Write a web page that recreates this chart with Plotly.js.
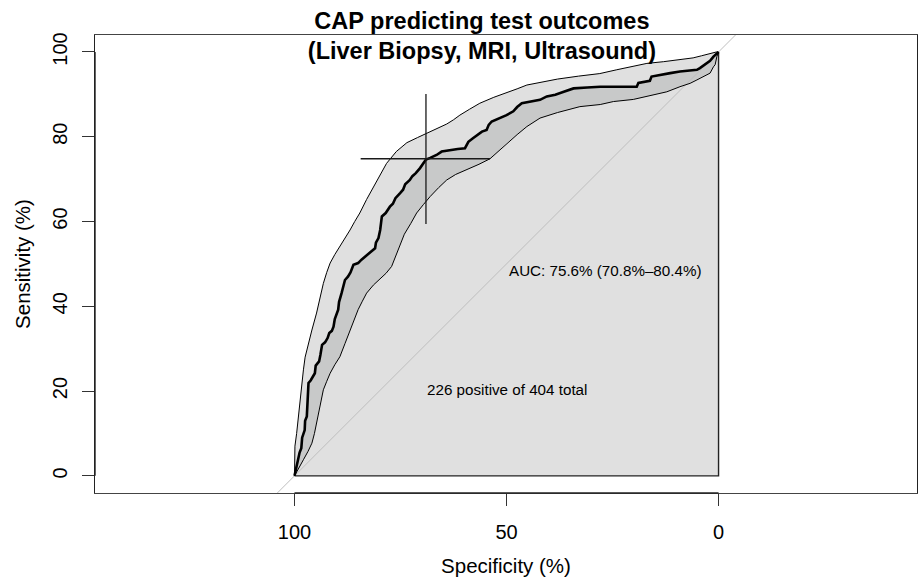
<!DOCTYPE html>
<html>
<head>
<meta charset="utf-8">
<script src="https://cdn.plot.ly/plotly-3.0.1.min.js"></script>
<style>html,body{margin:0;padding:0;background:#fff;}#chart{width:918px;height:577px;}</style>
</head>
<body>
<div id="chart"></div>
<script>
// ROC curve (specificity %, sensitivity %)
const rocSpec = [100,99.6,98.8,98.4,98.2,97.6,97.5,97.1,97.0,96.7,96.2,95.6,95.2,95.0,94.2,93.9,93.5,92.8,92.2,91.8,91.2,90.8,90.5,89.7,89.5,88.9,88.6,88.1,87.4,86.8,86.1,85.0,84.2,83.4,82.3,81.0,80.8,80.2,79.8,79.6,79.4,78.5,77.5,76.8,76.2,75.1,74.4,73.9,72.8,72.2,71.4,70.4,69.8,69.0,68.0,66.5,65.3,63.3,61.5,59.8,59.0,58.0,57.0,55.8,54.7,54.2,53.5,52.0,50.0,48.4,47.5,46.4,44.0,42.1,40.5,38.5,36.5,34.2,31.0,27.9,23.0,19.3,18.9,16.2,15.8,13.0,11.4,9.1,6.7,5.1,4.4,3.4,2.0,1.2,0.6,0];
const rocSens = [0,2,5.5,6.5,9,10.8,13,14,17,21.9,22.5,23.5,24.2,26,27,28.5,30.9,31.5,32.5,33.7,34.2,35.2,37,39.2,41,43.1,44.5,46.2,47,48,49.8,50.2,51,51.7,52.5,53.7,55,56.1,58,60,61.2,62,63.5,64.2,65.5,66.7,67.5,68.8,69.8,70.7,71.4,72.6,73.6,74.6,75.0,75.7,76.5,76.9,77.1,77.3,78.8,79.6,80.4,81.2,81.6,82.8,83.6,84.2,85.1,86.0,87.0,87.9,88.3,88.7,89.5,89.9,90.6,91.4,91.6,91.8,91.8,91.8,92.7,93.2,94.2,94.6,95.0,95.4,95.6,95.8,96.2,96.9,97.9,98.9,99.5,100];

// Upper confidence bound
const upperSpec = [100,100,99.9,99.5,99.1,98.7,98.3,97.9,97.5,96.7,95.9,94.8,94.0,93.2,92.4,91.6,90.5,89.3,88.0,86.9,85.8,84.6,83.0,81.4,79.8,78.3,76.0,73.5,71.0,68.8,66.5,64.1,62.5,61.0,58.7,56.3,53.0,50.0,47.5,45.2,42,38,33,28,24,20,16.9,13,9.9,6,4,2,0.5,0];
const upperSens = [0,3,7,10,14,18,22,25,28,31.5,34.4,38.4,42,45.4,48,50.2,52.2,54.1,56,58,60,62,65.2,68.2,71,73.7,76.5,78.6,79.8,80.8,81.8,83.0,84,85.1,86.5,87.9,89.3,90.3,91.3,92.2,92.9,93.6,94.3,94.9,95.8,96.6,97.3,97.7,98.1,98.6,99.1,99.7,100,100];

// Lower confidence bound
const lowerSpec = [100,98.8,97.9,96.8,95.9,95.3,94.8,94.4,94.0,93.2,92.4,91.6,90.5,89.3,88.1,86.9,86.0,85.0,84.0,83.0,81.4,80.4,79.8,78.4,77.1,76.5,75.9,75.0,74.1,72.6,71.2,69.6,68.0,66,64.1,62,59.4,56.5,53.9,52,50.0,47.5,45.2,42.1,38,32.7,27.9,24.8,20.1,16.9,12.2,9.1,6.7,5.1,2.8,2.0,1.2,0.8,0.4,0.2,0];
const lowerSens = [0,2,3.8,5.8,7.7,10,12.4,14.8,17.1,20.3,22.3,24.2,26.2,28.1,31.2,34.4,36.8,39.2,41.2,43.1,45,46,46.6,47.8,49.4,51,52.5,55,57,59.5,62,64,65.9,68,69.8,71.1,72.2,73.5,74.8,76.5,78.5,80.5,82.4,84.4,85.7,87.1,87.6,88.3,88.8,89.5,90.6,91.8,92.6,93.4,94.6,95.0,96.5,97,98.9,99.7,100];

// Best threshold with its confidence intervals
const bestSpec = 69.0, bestSens = 74.8;
const specCI = [84.4, 53.9];
const sensCI = [59.4, 90.1];

// Chance diagonal and AUC polygon corners
const diagSpec = [160, -60];
const diagSens = [-60, 160];
const cornerSpec = [0, 0, 100];
const cornerSens = [100, 0, 0];

const xTicks = [100, 50, 0];
const yTicks = [0, 20, 40, 60, 80, 100];

const aucText = 'AUC: 75.6% (70.8%–80.4%)';
const countText = '226 positive of 404 total';
const FONT = 'Liberation Sans, Arial, Helvetica, sans-serif';

const traces = [
  { // light grey area under the upper bound
    x: upperSpec.concat(cornerSpec.slice(1)),
    y: upperSens.concat(cornerSens.slice(1)),
    mode: 'lines', fill: 'toself', fillcolor: '#E0E0E0',
    line: {width: 0}, hoverinfo: 'skip', showlegend: false
  },
  { // darker band between ROC and lower bound
    x: rocSpec.concat(lowerSpec.slice().reverse()),
    y: rocSens.concat(lowerSens.slice().reverse()),
    mode: 'lines', fill: 'toself', fillcolor: '#C8C9C9',
    line: {width: 0}, hoverinfo: 'skip', showlegend: false
  },
  { // polygon border
    x: cornerSpec, y: cornerSens, mode: 'lines',
    line: {color: '#222', width: 1.4}, hoverinfo: 'skip', showlegend: false
  },
  { // chance line
    x: diagSpec, y: diagSens, mode: 'lines',
    line: {color: '#BEBEBE', width: 1}, hoverinfo: 'skip', showlegend: false
  },
  { x: upperSpec, y: upperSens, mode: 'lines', line: {color: '#000', width: 1}, showlegend: false },
  { x: lowerSpec, y: lowerSens, mode: 'lines', line: {color: '#000', width: 1}, showlegend: false },
  { x: rocSpec, y: rocSens, mode: 'lines', line: {color: '#000', width: 2.6}, showlegend: false },
  { x: specCI, y: [bestSens, bestSens], mode: 'lines', line: {color: '#1a1a1a', width: 1.3}, showlegend: false },
  { x: [bestSpec, bestSpec], y: sensCI, mode: 'lines', line: {color: '#1a1a1a', width: 1.3}, showlegend: false }
];

const layout = {
  width: 918, height: 577, autosize: false,
  paper_bgcolor: '#fff', plot_bgcolor: '#fff',
  margin: {l: 95, r: 1, t: 35, b: 84, pad: 0},
  font: {family: FONT, color: '#000', size: 20},
  title: {
    text: '<b>CAP predicting test outcomes<br>(Liver Biopsy, MRI, Ultrasound)</b>',
    font: {family: FONT, size: 23.5, color: '#000'},
    x: 0.525, xanchor: 'center', y: 0.950, yanchor: 'middle'
  },
  xaxis: {
    range: [147.05, -46.8], tickvals: xTicks, ticktext: xTicks.map(String),
    ticks: 'outside', ticklen: 12, tickwidth: 1, tickcolor: '#333', ticklabelstandoff: 9,
    showgrid: false, zeroline: false, showline: true, mirror: true,
    linecolor: '#444', linewidth: 1.2,
    tickfont: {family: FONT, size: 20, color: '#000'},
    title: {text: 'Specificity (%)', font: {family: FONT, size: 20.5, color: '#000'}, standoff: 17}
  },
  yaxis: {
    range: [-4.05, 104.0], tickvals: yTicks, ticktext: yTicks.map(String),
    ticks: 'outside', ticklen: 12, tickwidth: 1, tickcolor: '#333', tickangle: -90, ticklabelstandoff: 7,
    showgrid: false, zeroline: false, showline: true, mirror: true,
    linecolor: '#222', linewidth: 1.2,
    tickfont: {family: FONT, size: 20, color: '#000'},
    title: {text: 'Sensitivity (%)', font: {family: FONT, size: 20.5, color: '#000'}, standoff: 12}
  },
  shapes: [
    {type: 'line', xref: 'x', yref: 'paper', x0: 100, x1: 0, y0: 0, y1: 0, line: {color: '#222', width: 1.5}},
    {type: 'line', xref: 'paper', yref: 'y', x0: 0, x1: 0, y0: 0, y1: 100, line: {color: '#222', width: 1.4}}
  ],
  annotations: [
    {x: 50, y: 48.4, xref: 'x', yref: 'y', text: aucText, showarrow: false,
     xanchor: 'left', yanchor: 'middle', font: {family: FONT, size: 15.2, color: '#000'}},
    {x: 50, y: 20.3, xref: 'x', yref: 'y', text: countText, showarrow: false,
     xanchor: 'center', yanchor: 'middle', font: {family: FONT, size: 15.2, color: '#000'}}
  ]
};

Plotly.newPlot('chart', traces, layout, {displayModeBar: false, staticPlot: true});
</script>
</body>
</html>
